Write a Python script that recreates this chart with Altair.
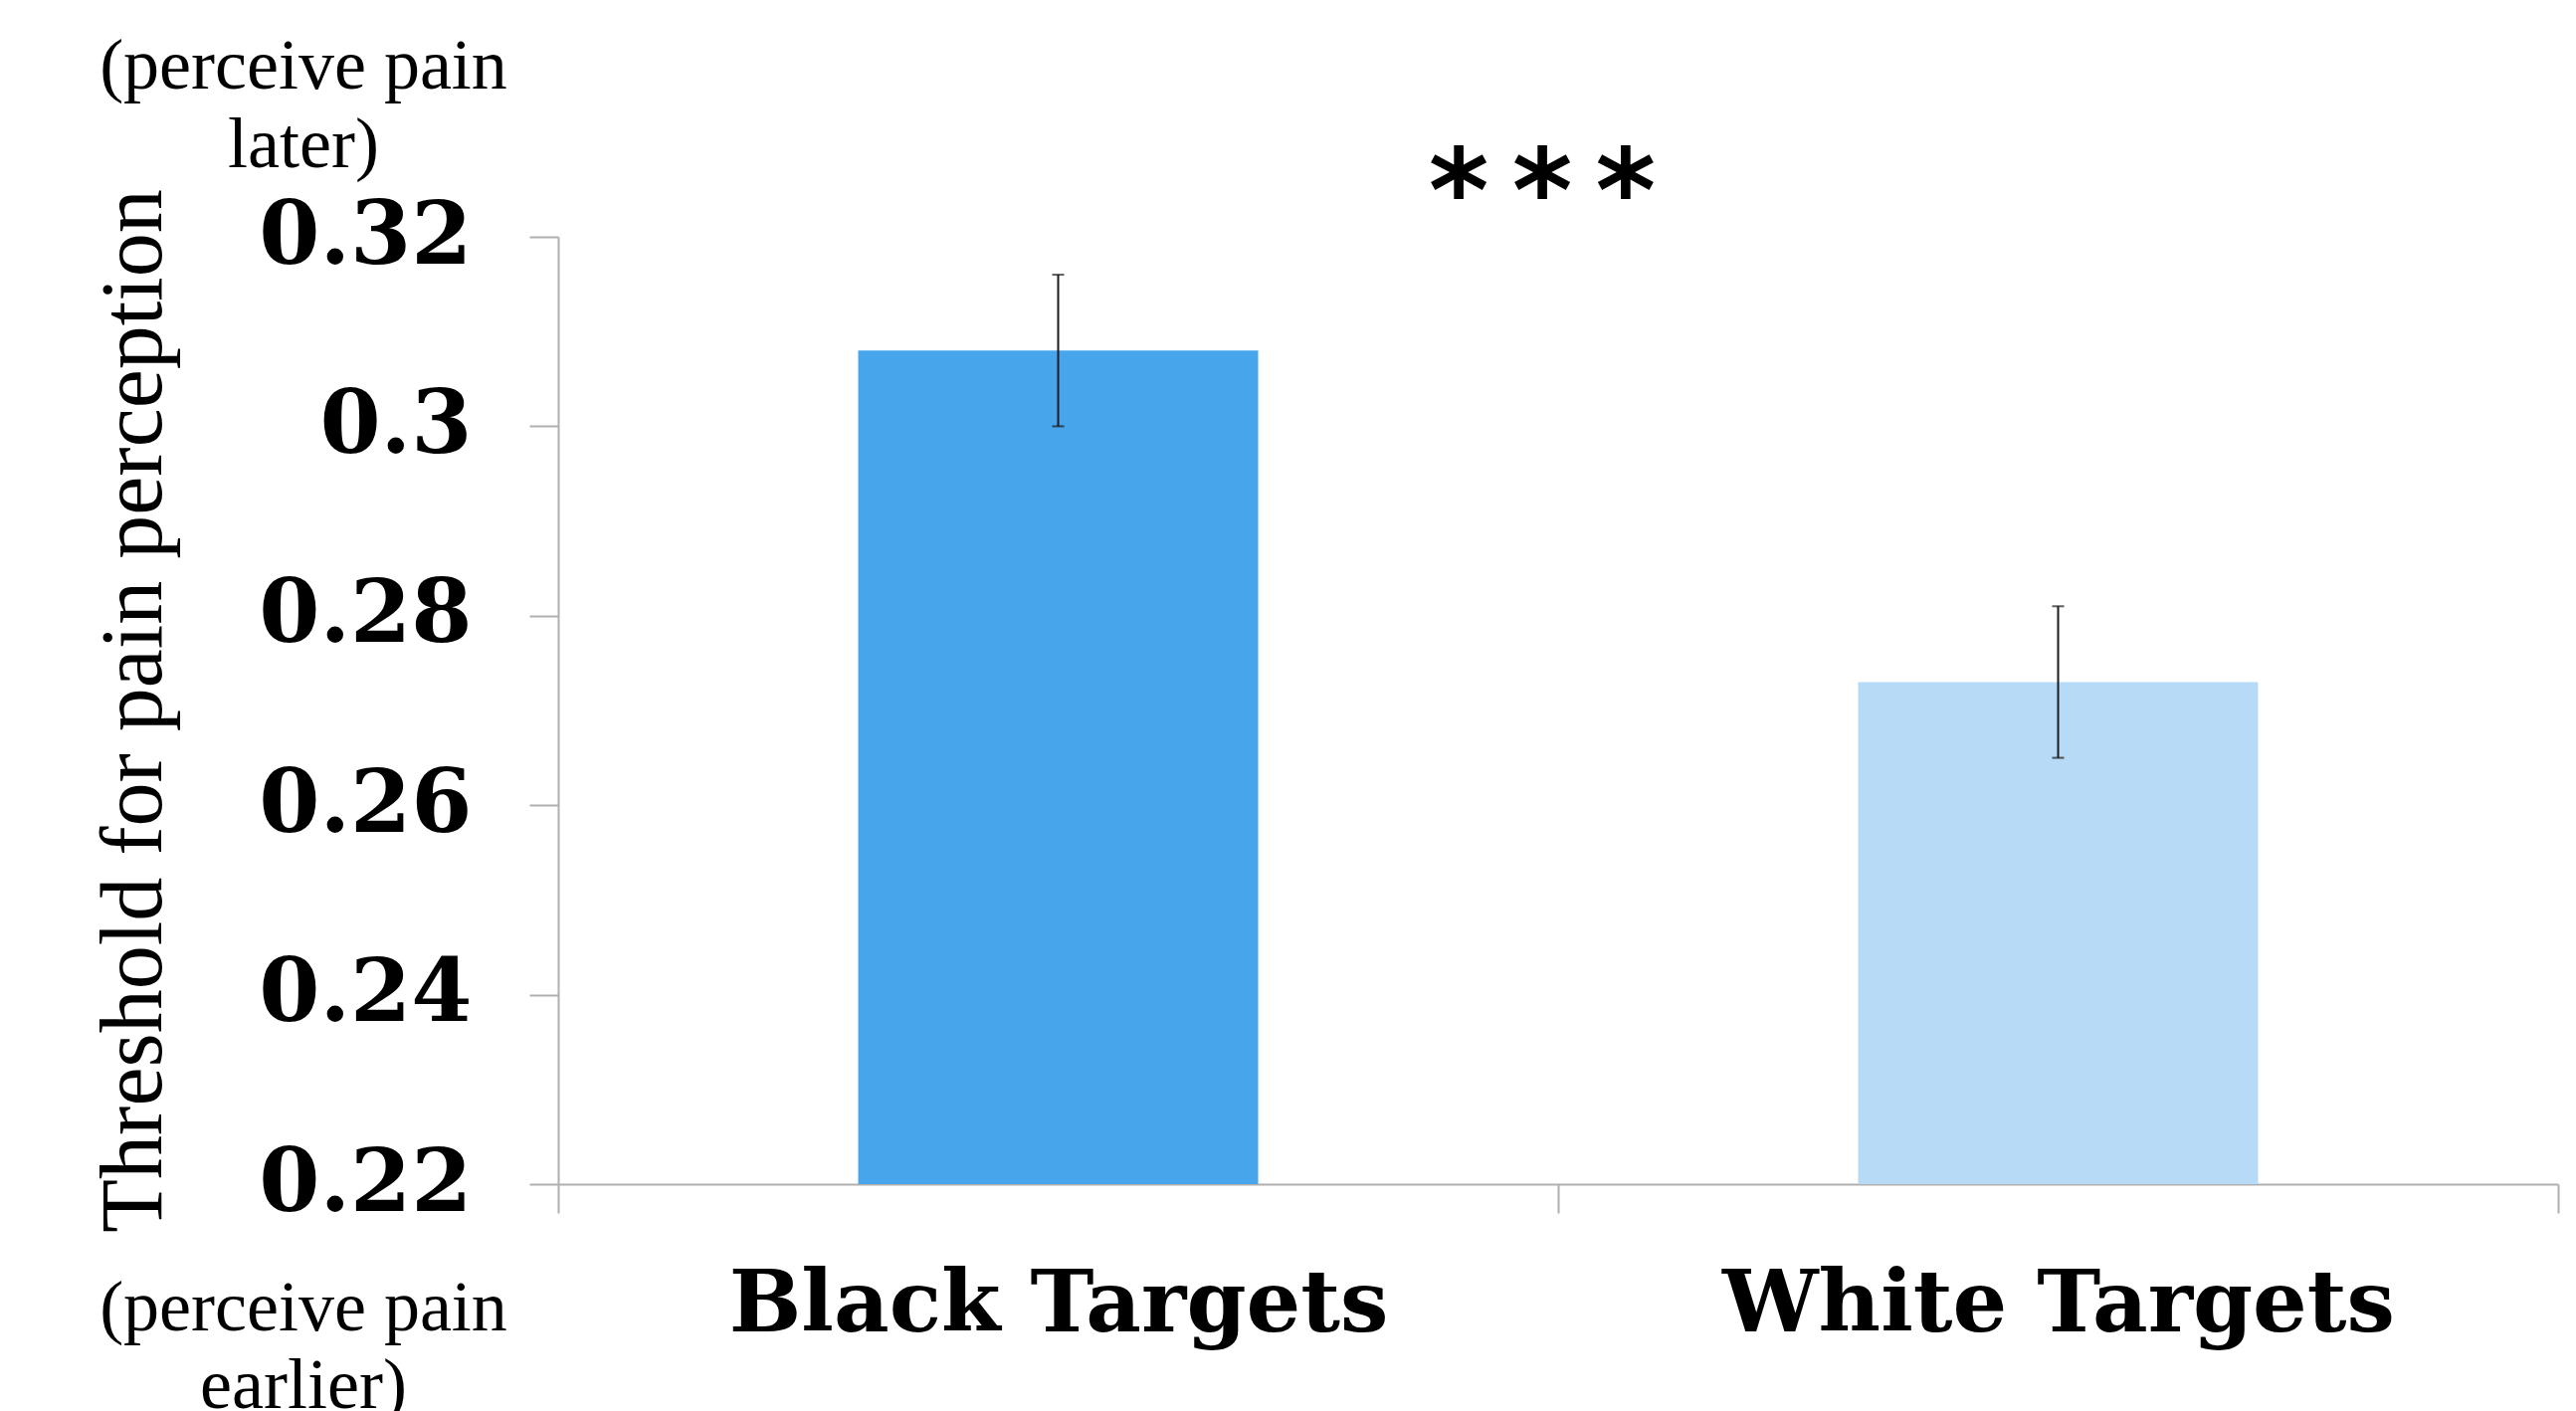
import altair as alt
import pandas as pd

categories = ["Black Targets", "White Targets"]
means = [0.308, 0.273]
err_low = [0.300, 0.265]
err_high = [0.316, 0.281]
bar_colors = ["#47a6eb", "#b7dbf6"]
y_ticks = [0.22, 0.24, 0.26, 0.28, 0.30, 0.32]
y_title = "Threshold for pain perception"
top_note = ["(perceive pain", "later)"]
bottom_note = ["(perceive pain", "earlier)"]
signif = "*\u2009*\u2009*"

df = pd.DataFrame({"cat": categories, "mean": means, "lo": err_low, "hi": err_high})

W, H = 2010, 952

x = alt.X(
    "cat:N",
    sort=categories,
    title=None,
    scale=alt.Scale(paddingInner=0, paddingOuter=0),
    axis=alt.Axis(
        labelAngle=0,
        labelFont="DejaVu Serif",
        labelFontWeight="bold",
        labelFontSize=86,
        labelColor="black",
        labelBaseline="alphabetic",
        labelPadding=118,
        labelLimit=0,
        tickBand="extent",
        tickSize=29,
        tickColor="#b0b0b0",
        tickWidth=2,
        domainColor="#b0b0b0",
        domainWidth=2,
        grid=False,
    ),
)

y = alt.Y(
    "mean:Q",
    scale=alt.Scale(domain=[0.22, 0.32], zero=False, nice=False),
    axis=alt.Axis(
        values=y_ticks,
        format=".2~f",
        title=y_title,
        titleFont="Liberation Serif",
        titleFontWeight="normal",
        titleFontSize=88,
        titleColor="black",
        titleAngle=270,
        titleAlign="center",
        titleBaseline="alphabetic",
        titleX=-400,
        titleY=H / 2,
        titleLimit=0,
        labelFont="DejaVu Serif",
        labelFontWeight="bold",
        labelFontSize=88,
        labelColor="black",
        labelPadding=58,
        labelLimit=0,
        tickSize=29,
        tickColor="#b0b0b0",
        tickWidth=2,
        domainColor="#b0b0b0",
        domainWidth=2,
        grid=False,
    ),
)

bars = alt.Chart(df).mark_bar(width=alt.RelativeBandSize(0.4)).encode(
    x=x,
    y=y,
    y2=alt.Y2(datum=0.22),
    color=alt.Color("cat:N", scale=alt.Scale(domain=categories, range=bar_colors), legend=None),
)

rules = alt.Chart(df).mark_rule(color="#1a1a1a", strokeWidth=2).encode(
    x=alt.X("cat:N", sort=categories),
    y="lo:Q",
    y2="hi:Q",
)
cap_lo = alt.Chart(df).mark_tick(color="#1a1a1a", thickness=2, size=12, orient="horizontal").encode(
    x=alt.X("cat:N", sort=categories), y="lo:Q"
)
cap_hi = alt.Chart(df).mark_tick(color="#1a1a1a", thickness=2, size=12, orient="horizontal").encode(
    x=alt.X("cat:N", sort=categories), y="hi:Q"
)

notes = pd.DataFrame({
    "text": top_note + bottom_note,
    "px": [-256, -256, -256, -256],
    "py": [-149, -70, 1099, 1177],
})
note_layer = alt.Chart(notes).mark_text(
    font="Liberation Serif", fontSize=72, color="black", align="center", baseline="alphabetic"
).encode(
    x=alt.X("px:Q", scale=None),
    y=alt.Y("py:Q", scale=None),
    text="text:N",
)

star = alt.Chart(pd.DataFrame({"text": [signif]})).mark_text(
    font="DejaVu Sans", fontSize=116, fontWeight="bold", color="black", align="center", baseline="alphabetic"
).encode(
    x=alt.value(989),
    y=alt.value(-6),
    text="text:N",
)

chart = alt.layer(bars, rules, cap_lo, cap_hi, note_layer, star).properties(
    width=W,
    height=H,
    background="white",
    autosize=alt.AutoSizeParams(type="none"),
    padding={"left": 561, "top": 238, "right": 18, "bottom": 228},
).configure_view(stroke=None, strokeWidth=0)

chart.save("out.html", embed_options={"renderer": "svg", "actions": False})
